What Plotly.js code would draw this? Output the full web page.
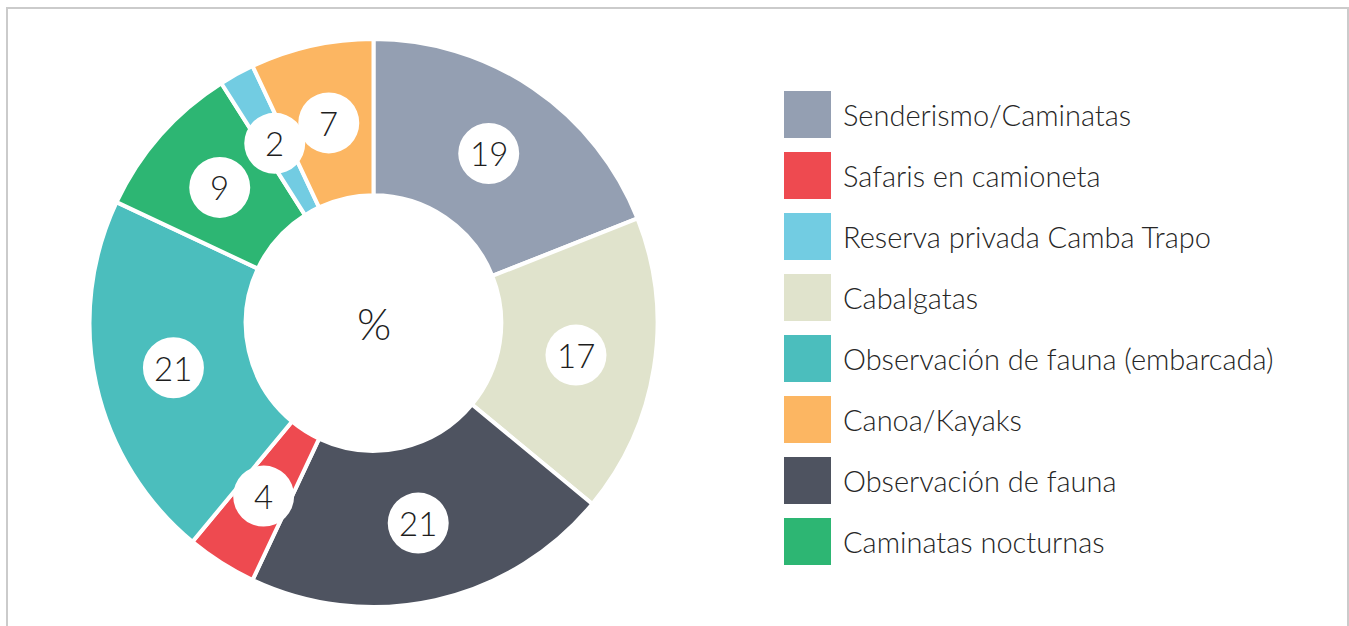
<!DOCTYPE html>
<html>
<head>
<meta charset="utf-8">
<script src="https://cdn.plot.ly/plotly-3.0.1.min.js"></script>
<style>html,body{margin:0;padding:0;background:#fff;}#chart{width:1349px;height:626px;}</style>
</head>
<body>
<div id="chart"></div>
<script>
// Slices, clockwise from 12 o'clock
const sliceLabels = ["Senderismo/Caminatas", "Cabalgatas", "Observación de fauna", "Safaris en camioneta",
  "Observación de fauna (embarcada)", "Caminatas nocturnas", "Reserva privada Camba Trapo", "Canoa/Kayaks"];
const sliceValues = [19, 17, 21, 4, 21, 9, 2, 7];
const sliceColors = ["#949fb2", "#e0e3cc", "#4e5360", "#ee4a50", "#4bbebd", "#2db673", "#72cce2", "#fcb662"];
// Legend order
const legendLabels = ["Senderismo/Caminatas", "Safaris en camioneta", "Reserva privada Camba Trapo", "Cabalgatas",
  "Observación de fauna (embarcada)", "Canoa/Kayaks", "Observación de fauna", "Caminatas nocturnas"];
const centerText = "%";

const W = 1349, H = 626;
const FONT = "Lato, 'Open Sans', sans-serif";
const TXT = "#1e1e1e";
// pie geometry (pixels)
const pcx = 373.5, pcy = 323, pr = 284, holeFrac = 0.45;
const domX = [(pcx - pr) / W, (pcx + pr) / W];
const domY = [1 - (pcy + pr) / H, 1 - (pcy - pr) / H];

const trace = {
  type: "pie", labels: sliceLabels, values: sliceValues, sort: false,
  direction: "clockwise", rotation: 0, hole: holeFrac,
  marker: {colors: sliceColors, line: {color: "#ffffff", width: 4}},
  textinfo: "none", hoverinfo: "label+value", showlegend: false,
  domain: {x: domX, y: domY}
};

const shapes = [];
const annotations = [];
// outer border
shapes.push({type: "rect", xref: "paper", yref: "paper", x0: 7 / W, x1: 1348 / W, y0: -0.05, y1: 1 - 8 / H,
  line: {color: "#cbcbcb", width: 2}, fillcolor: "rgba(0,0,0,0)", layer: "below"});

// value labels in white circles, placed from cumulative values
const total = sliceValues.reduce((a, b) => a + b, 0);
const rLab = 205;
let cum = 0;
sliceValues.forEach((v, i) => {
  const mid = (cum + v / 2) / total * 2 * Math.PI;
  cum += v;
  const px = pcx + rLab * Math.sin(mid), py = pcy - rLab * Math.cos(mid);
  const ax = px / W, ay = 1 - py / H;
  shapes.push({type: "circle", xref: "paper", yref: "paper", xsizemode: "pixel", ysizemode: "pixel",
    xanchor: ax, yanchor: ay, x0: -30.5, x1: 30.5, y0: -30.5, y1: 30.5,
    fillcolor: "#ffffff", line: {width: 0}, layer: "above"});
  annotations.push({xref: "paper", yref: "paper", x: ax, y: ay, text: String(v), showarrow: false,
    xanchor: "center", yanchor: "middle", font: {family: FONT, size: 33, weight: 300, color: TXT}});
});
annotations.push({xref: "paper", yref: "paper", x: pcx / W, y: 1 - pcy / H, text: centerText, showarrow: false,
  xanchor: "center", yanchor: "middle", font: {family: FONT, size: 44, weight: 300, color: TXT}});

// legend
const colorOf = {};
sliceLabels.forEach((l, i) => colorOf[l] = sliceColors[i]);
legendLabels.forEach((l, i) => {
  const top = 91 + i * 61;
  shapes.push({type: "rect", xref: "paper", yref: "paper", x0: 784 / W, x1: 831 / W,
    y0: 1 - (top + 47) / H, y1: 1 - top / H, fillcolor: colorOf[l], line: {width: 0}});
  annotations.push({xref: "paper", yref: "paper", x: 841 / W, y: 1 - (top + 23.5) / H, text: l, showarrow: false,
    xanchor: "left", yanchor: "middle", font: {family: FONT, size: 29, weight: 300, color: "#262626"}});
});

const layout = {
  width: W, height: H, margin: {l: 0, r: 0, t: 0, b: 0},
  paper_bgcolor: "#ffffff", plot_bgcolor: "#ffffff",
  showlegend: false, shapes: shapes, annotations: annotations
};
Plotly.newPlot("chart", [trace], layout, {displayModeBar: false, staticPlot: true});
</script>
</body>
</html>
